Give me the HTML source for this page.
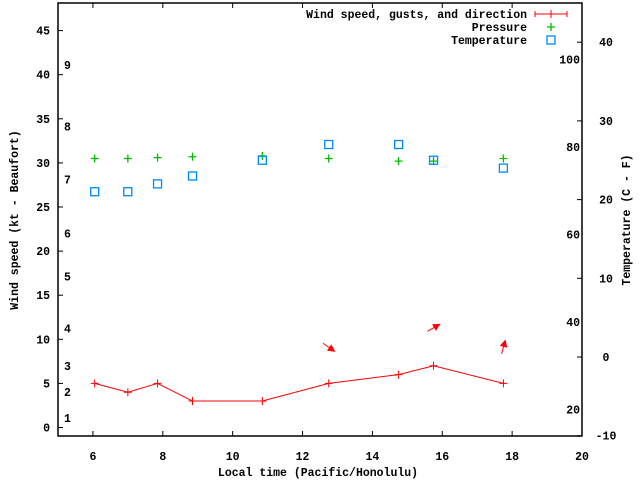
<!DOCTYPE html>
<html><head><meta charset="utf-8"><style>
body{margin:0;background:#fff}
svg text{font-family:"Liberation Mono",monospace;font-size:11.5px;font-weight:bold;fill:#000}
</style></head><body>
<svg id="c" width="640" height="480" xmlns="http://www.w3.org/2000/svg"></svg>
<script>
const hours=[6.05,7.0,7.85,8.85,10.85,12.75,14.75,15.75,17.75];
const windSpeed=[5,4,5,3,3,5,6,7,5];
const pressure=[30.5,30.5,30.6,30.7,30.8,30.5,30.2,30.2,30.5];
const tempC=[21,21,22,23,25,27,27,25,24];
const arrowHours=[12.75,15.75,17.75];
const arrowLevel=[9.1,11.3,9.1];
const arrowDir=[35,-30,-75];
const xTicks=[6,8,10,12,14,16,18,20];
const yTicks=[0,5,10,15,20,25,30,35,40,45];
const cTicks=[-10,0,10,20,30,40];
const fTicks=[20,40,60,80,100];
const beaufortLabels=["1","2","3","4","5","6","7","8","9"];
const beaufortLevels=[1.1,4,7,11.2,17.1,22,28.1,34.1,41.1];

const L=58,R=582,T=3,B=436;
const X=h=>L+(h-5)*(R-L)/15;
const Y=v=>427.5-v*8.82;
const YC=c=>357-c*7.87;
const svg=document.getElementById('c');
const NS='http://www.w3.org/2000/svg';
function mk(tag,a,txt){const e=document.createElementNS(NS,tag);for(const k in a)e.setAttribute(k,a[k]);if(txt!=null)e.textContent=txt;svg.appendChild(e);return e;}

let e;
e=mk('rect',{x:L,y:T,width:R-L,height:B-T,fill:'none',stroke:'#000','stroke-width':1.5});


xTicks.forEach(t=>{const x=X(t);
 e=mk('path',{d:`M${x} ${B}v-5M${x} ${T}v5`,stroke:'#000'});
 
 
 e=mk('text',{x:x,y:460,'text-anchor':'middle'},t);
 
 
});
yTicks.forEach(t=>{const y=Y(t);
 e=mk('path',{d:`M${L} ${y}h5`,stroke:'#000'});
 
 
 e=mk('text',{x:50,y:y+4,'text-anchor':'end'},t);
 
 
});
cTicks.forEach(t=>{const y=YC(t);
 e=mk('path',{d:`M${R} ${y}h-5`,stroke:'#000'});
 
 
 e=mk('text',{x:606,y:y+4,'text-anchor':'middle'},t);
 
 
});
fTicks.forEach(t=>{const y=YC((t-32)*5/9);
 e=mk('text',{x:580,y:y+4,'text-anchor':'end'},t);
 
 
});
beaufortLabels.forEach((b,i)=>{
 e=mk('text',{x:64,y:Y(beaufortLevels[i])+4},b);
 
 
});
e=mk('text',{x:318,y:476,'text-anchor':'middle'},'Local time (Pacific/Honolulu)');


e=mk('text',{x:0,y:0,'text-anchor':'middle',transform:'translate(18,220) rotate(-90)'},'Wind speed (kt - Beaufort)');


e=mk('text',{x:0,y:0,'text-anchor':'middle',transform:'translate(630,220) rotate(-90)'},'Temperature (C - F)');



e=mk('polyline',{points:hours.map((h,i)=>X(h)+','+Y(windSpeed[i])).join(' '),fill:'none',stroke:'#f00'});


hours.forEach((h,i)=>{const x=X(h),y=Y(windSpeed[i]);
 e=mk('path',{d:`M${x-4} ${y}h8M${x} ${y-4}v8`,stroke:'#f00'});
 
 
 const px=X(h),py=Y(pressure[i]);
 e=mk('path',{d:`M${px-4} ${py}h8M${px} ${py-4}v8`,stroke:'#0b0','stroke-width':1.3});
 
 
 const ty=YC(tempC[i]);
 e=mk('rect',{x:x-4,y:ty-4,width:8,height:8,fill:'none',stroke:'#08f','stroke-width':1.3});
 
 
});
arrowHours.forEach((h,i)=>{const cx=X(h),cy=Y(arrowLevel[i]);const a=arrowDir[i]*Math.PI/180;
 const dx=Math.cos(a)*7,dy=Math.sin(a)*7;
 const x2=cx+dx,y2=cy+dy,x1=cx-dx,y1=cy-dy;
 const ux=dx/7,uy=dy/7;
 e=mk('path',{d:`M${x1} ${y1}L${x2} ${y2}M${x2} ${y2}L${x2-ux*6-uy*3} ${y2-uy*6+ux*3}L${x2-ux*6+uy*3} ${y2-uy*6-ux*3}Z`,stroke:'#f00',fill:'#f00'});
 
 
});
[['Wind speed, gusts, and direction',14],['Pressure',27],['Temperature',40]].forEach((l,i)=>{
 e=mk('text',{x:527,y:l[1]+4,'text-anchor':'end'},l[0]);
 
 
});
e=mk('path',{d:'M535 14h32M535 11v6M567 11v6M551 10v8',stroke:'#f00'});


e=mk('path',{d:'M547 27h8M551 23v8',stroke:'#0b0','stroke-width':1.3});


e=mk('rect',{x:547,y:36,width:8,height:8,fill:'none',stroke:'#08f','stroke-width':1.3});


</script>
</body></html>
